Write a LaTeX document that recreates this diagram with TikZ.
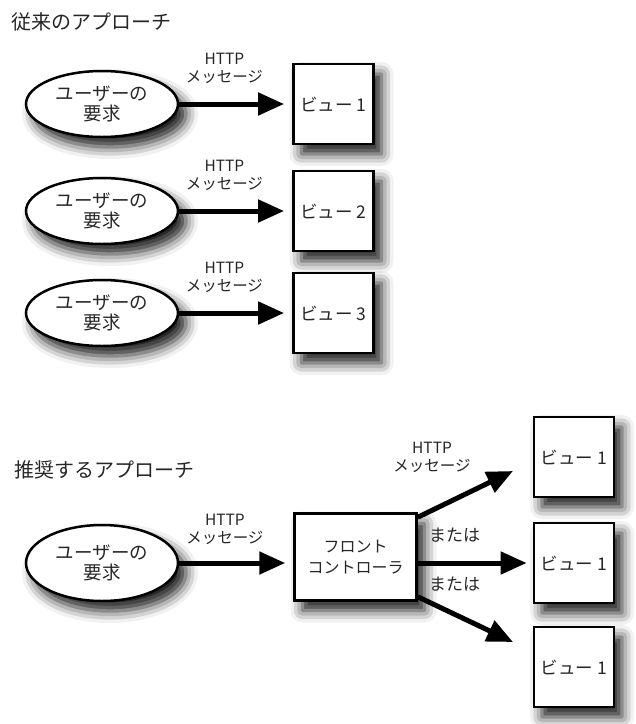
\documentclass[tikz,border=0pt]{standalone}
\usepackage{fontspec}
\setmainfont{Noto Sans CJK JP}
\usetikzlibrary{shapes.geometric,arrows.meta,shadows.blur}

\tikzset{
  shadowed/.style={blur shadow={shadow xshift=8pt, shadow yshift=-10pt,
      shadow blur radius=12pt, shadow opacity=90}},
  request/.style={ellipse, draw, line width=2.5pt, fill=white, shadowed,
      minimum width=152pt, minimum height=66pt, inner sep=0pt, align=center,
      font=\fontsize{18.5}{20}\selectfont},
  view/.style={rectangle, draw, line width=2.8pt, fill=white, shadowed,
      minimum width=80pt, minimum height=80pt, font=\fontsize{17.5}{20}\selectfont},
  front/.style={rectangle, draw, line width=2.5pt, fill=white, shadowed,
      minimum width=122pt, minimum height=87pt, align=center,
      font=\fontsize{16}{21}\selectfont},
  msg/.style={fill=white, inner sep=1pt, align=center,
      font=\fontsize{15.5}{18}\selectfont},
  ortext/.style={inner sep=1pt, font=\fontsize{17}{18}\selectfont},
  heading/.style={anchor=west, inner sep=0pt, font=\fontsize{20}{22}\selectfont},
  flow/.style={line width=5pt, -{Triangle[length=26pt,width=22pt]}}
}

\begin{document}
\begin{tikzpicture}[x=1pt, y=-1pt, text=black!85]
  \useasboundingbox (0,0) rectangle (636,724);

  \node[heading] (old) at (11,22) {従来のアプローチ};
  \foreach \i/\y in {1/104,2/211,3/313} {
    \node[request] (req\i) at (102,\y) {ユーザーの\\要求};
    \node[view] (view\i) at (333.5,\y) {ビュー \i};
    \draw[flow, shorten >=8pt] (req\i) -- (view\i)
      node[msg, pos=0.4, yshift=36pt] {HTTP\\メッセージ};
  }

  \node[heading] (new) at (14,470) {推奨するアプローチ};
  \node[request, minimum height=76pt] (req4) at (102,563) {ユーザーの\\要求};
  \node[front] (front) at (355.5,557) {フロント\\コントローラ};
  \node[view] (va) at (574,457) {ビュー 1};
  \node[view] (vb) at (574,563) {ビュー 1};
  \node[view] (vc) at (574,667) {ビュー 1};
  \coordinate (tipa) at (513,471);
  \coordinate (tipc) at (513,642);

  \draw[flow, shorten >=8pt] (req4) -- (req4 -| front.west)
    node[msg, pos=0.4, yshift=34pt] {HTTP\\メッセージ};
  \draw[flow] ([yshift=-5pt]front.north east) -- (tipa)
    node[msg, pos=0.15, yshift=53pt] {HTTP\\メッセージ};
  \draw[flow, shorten >=6pt] (front.east |- vb.west) -- (vb.west)
    node[ortext, pos=0.32, yshift=28pt] {または}
    node[ortext, pos=0.32, yshift=-21pt] {または};
  \draw[flow] ([yshift=5pt]front.south east) -- (tipc);
\end{tikzpicture}
\end{document}
